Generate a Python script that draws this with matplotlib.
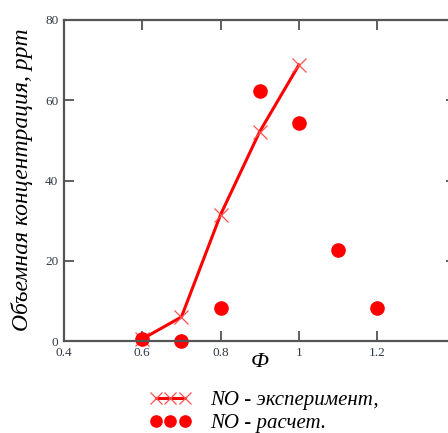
import matplotlib
matplotlib.use('Agg')
import matplotlib.pyplot as plt

# Эксперимент: коэффициент избытка топлива и концентрация NO
phi_exp = [0.6, 0.7, 0.8, 0.9, 1.0]
no_exp = [0.5, 6.0, 31.5, 52.2, 68.8]

# Расчет
phi_calc = [0.6, 0.7, 0.8, 0.9, 1.0, 1.1, 1.2]
no_calc = [0.5, 0.0, 8.2, 62.2, 54.4, 22.7, 8.2]

x_ticks = [0.4, 0.6, 0.8, 1.0, 1.2, 1.4]
x_labels = ['0.4', '0.6', '0.8', '1', '1.2', '']
y_ticks = [0, 20, 40, 60, 80]

serif = 'Liberation Serif'

fig = plt.figure(figsize=(4.48, 4.33), dpi=100)
ax = fig.add_axes([64 / 448, 1 - 341 / 433, 391.5 / 448, 321 / 433])

ax.plot(phi_exp, no_exp, color='red', linewidth=2.2, marker='x', markersize=10,
        markeredgewidth=0.9, markeredgecolor='#ff5050', label='NO - эксперимент,', clip_on=False)
ax.plot(phi_calc, no_calc, linestyle='none', marker='o', markersize=9.5, color='red',
        label='NO - расчет.', clip_on=False)

ax.set_xlim(0.4, 1.4)
ax.set_ylim(0, 80)
ax.set_xticks(x_ticks)
ax.set_xticklabels(x_labels)
ax.set_yticks(y_ticks)
ax.tick_params(direction='in', length=7, width=1.2, color='#444444', top=True, right=True,
               labelsize=9.5, labelcolor='#2f3a48')
ax.tick_params(axis='x', pad=4)
ax.tick_params(axis='y', pad=4)
for lab in ax.get_xticklabels() + ax.get_yticklabels():
    lab.set_family(serif)
for sp in ax.spines.values():
    sp.set_color('#555555')
    sp.set_linewidth(1.6)

ax.set_xlabel('Ф', fontsize=16, family=serif, style='italic', labelpad=-4)
fig.text(22 / 448, 1 - 180 / 433, 'Объемная концентрация, ppm', rotation=90,
         fontsize=17, family=serif, style='italic', ha='center', va='center')

leg = fig.legend(loc='center', bbox_to_anchor=(264 / 448, 1 - 412 / 433), numpoints=3,
                 frameon=False, handlelength=2.0, handletextpad=0.9, labelspacing=0.15,
                 markerscale=0.85,
                 prop={'family': serif, 'style': 'italic', 'size': 15})

fig.savefig('out.png', dpi=100)
